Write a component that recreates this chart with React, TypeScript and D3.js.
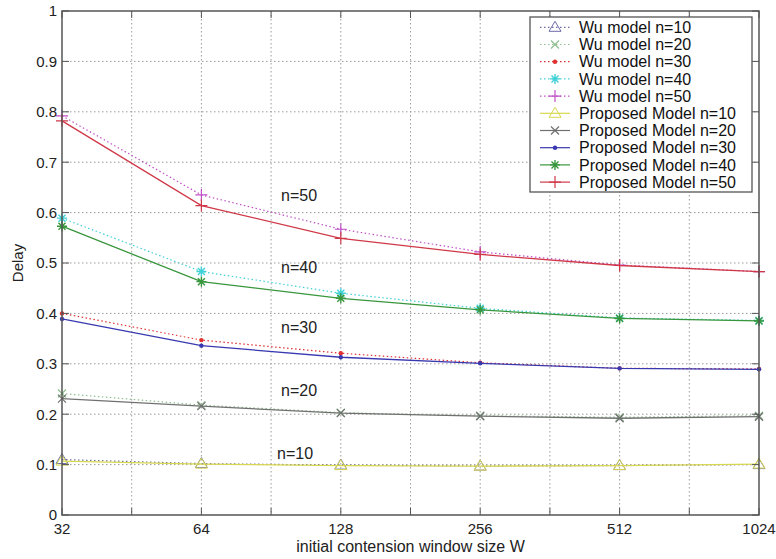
import React from "react";
import * as d3 from "d3";

const width = 776;
const height = 559;
const plot = { left: 62, right: 759, top: 11, bottom: 515 };
const font = "'Liberation Sans', Arial, Helvetica, sans-serif";

const windowSizes = [32, 64, 128, 256, 512, 1024];
const yTicks = [0, 0.1, 0.2, 0.3, 0.4, 0.5, 0.6, 0.7, 0.8, 0.9, 1];

// Wu model
const wu10 = [0.11, 0.102, 0.099, 0.097, 0.098, 0.1];
const wu20 = [0.241, 0.218, 0.203, 0.197, 0.194, 0.197];
const wu30 = [0.4, 0.347, 0.321, 0.302, 0.291, 0.29];
const wu40 = [0.589, 0.483, 0.44, 0.41, 0.391, 0.386];
const wu50 = [0.792, 0.635, 0.567, 0.522, 0.496, 0.483];

// Proposed model
const prop10 = [0.107, 0.101, 0.098, 0.097, 0.098, 0.101];
const prop20 = [0.231, 0.216, 0.202, 0.196, 0.192, 0.195];
const prop30 = [0.389, 0.336, 0.313, 0.301, 0.291, 0.289];
const prop40 = [0.573, 0.463, 0.43, 0.407, 0.39, 0.385];
const prop50 = [0.782, 0.614, 0.549, 0.517, 0.495, 0.483];

const annoTexts = ["n=50", "n=40", "n=30", "n=20", "n=10"];
const annoX = [104, 104, 104, 104, 102];
const annoY = [0.635, 0.492, 0.373, 0.248, 0.123];

type Marker = "tri" | "x" | "dot" | "star" | "plus";

const series: { name: string; values: number[]; color: string; dash: boolean; marker: Marker }[] = [
  { name: "Wu model n=10", values: wu10, color: "#6c6ca8", dash: true, marker: "tri" },
  { name: "Wu model n=20", values: wu20, color: "#8fbf8f", dash: true, marker: "x" },
  { name: "Wu model n=30", values: wu30, color: "#e03030", dash: true, marker: "dot" },
  { name: "Wu model n=40", values: wu40, color: "#40d0d8", dash: true, marker: "star" },
  { name: "Wu model n=50", values: wu50, color: "#c050c8", dash: true, marker: "plus" },
  { name: "Proposed Model n=10", values: prop10, color: "#d8d850", dash: false, marker: "tri" },
  { name: "Proposed Model n=20", values: prop20, color: "#707070", dash: false, marker: "x" },
  { name: "Proposed Model n=30", values: prop30, color: "#3838b0", dash: false, marker: "dot" },
  { name: "Proposed Model n=40", values: prop40, color: "#38963c", dash: false, marker: "star" },
  { name: "Proposed Model n=50", values: prop50, color: "#d03848", dash: false, marker: "plus" },
];

const x = d3.scaleLog().base(2).domain([32, 1024]).range([plot.left, plot.right]);
const y = d3.scaleLinear().domain([0, 1]).range([plot.bottom, plot.top]);

// grid/ticks at every half step in log2
const xGrid = d3.range(10, 21).map(k => Math.pow(2, k / 2));

function MarkerShape({ type, cx, cy, color }: { type: Marker; cx: number; cy: number; color: string }) {
  const s = 5;
  if (type === "tri") {
    return <path d={`M${cx},${cy - s - 1}L${cx + s + 1},${cy + s - 1}L${cx - s - 1},${cy + s - 1}Z`} fill="none" stroke={color} strokeWidth={1} />;
  }
  if (type === "x") {
    return <path d={`M${cx - 4},${cy - 4}L${cx + 4},${cy + 4}M${cx - 4},${cy + 4}L${cx + 4},${cy - 4}`} stroke={color} strokeWidth={1.2} />;
  }
  if (type === "dot") {
    return <circle cx={cx} cy={cy} r={2.2} fill={color} />;
  }
  if (type === "plus") {
    return <path d={`M${cx - 6},${cy}L${cx + 6},${cy}M${cx},${cy - 6}L${cx},${cy + 6}`} stroke={color} strokeWidth={1.2} />;
  }
  return (
    <path
      d={`M${cx - 5},${cy}L${cx + 5},${cy}M${cx},${cy - 5}L${cx},${cy + 5}M${cx - 3.5},${cy - 3.5}L${cx + 3.5},${cy + 3.5}M${cx - 3.5},${cy + 3.5}L${cx + 3.5},${cy - 3.5}`}
      stroke={color}
      strokeWidth={1.4}
    />
  );
}

export default function App() {
  const line = d3
    .line<number>()
    .x((_, i) => x(windowSizes[i]))
    .y(d => y(d));

  const legend = { x: 530, y: 17, w: 222, h: 175, row: 17.2 };
  const axisColor = "#555";

  return (
    <svg width={width} height={height} style={{ position: "absolute", left: 0, top: 0, background: "#fff" }} fontFamily={font}>
      <rect x={0} y={0} width={width} height={height} fill="#fff" />

      {/* grid */}
      {yTicks.slice(1, -1).map(t => (
        <line key={"gy" + t} x1={plot.left} x2={plot.right} y1={y(t)} y2={y(t)} stroke="#9a9a9a" strokeWidth={1} strokeDasharray="1.5,2.5" />
      ))}
      {xGrid.slice(1, -1).map(t => (
        <line key={"gx" + t} x1={x(t)} x2={x(t)} y1={plot.top} y2={plot.bottom} stroke="#9a9a9a" strokeWidth={1} strokeDasharray="1.5,2.5" />
      ))}

      {/* data */}
      {series.map(s => (
        <g key={s.name}>
          <path d={line(s.values) || ""} fill="none" stroke={s.color} strokeWidth={s.dash ? 1.2 : 1.3} strokeDasharray={s.dash ? "1.5,2.5" : undefined} />
          {s.values.map((v, i) => (
            <MarkerShape key={i} type={s.marker} cx={x(windowSizes[i])} cy={y(v)} color={s.color} />
          ))}
        </g>
      ))}

      {/* axes box */}
      <rect x={plot.left} y={plot.top} width={plot.right - plot.left} height={plot.bottom - plot.top} fill="none" stroke={axisColor} strokeWidth={1.5} />
      {yTicks.map(t => (
        <g key={"ty" + t}>
          <line x1={plot.left} x2={plot.left + 7} y1={y(t)} y2={y(t)} stroke={axisColor} />
          <line x1={plot.right} x2={plot.right - 7} y1={y(t)} y2={y(t)} stroke={axisColor} />
          <text x={plot.left - 5} y={y(t)} dy="0.36em" textAnchor="end" fontSize={15} fill="#222">
            {String(t)}
          </text>
        </g>
      ))}
      {xGrid.map(t => (
        <g key={"tx" + t}>
          <line x1={x(t)} x2={x(t)} y1={plot.bottom} y2={plot.bottom - 7} stroke={axisColor} />
          <line x1={x(t)} x2={x(t)} y1={plot.top} y2={plot.top + 7} stroke={axisColor} />
        </g>
      ))}
      {windowSizes.map(w => (
        <text key={"lx" + w} x={x(w)} y={plot.bottom + 19} textAnchor="middle" fontSize={15} fill="#222">
          {w}
        </text>
      ))}

      <text x={(plot.left + plot.right) / 2} y={552} textAnchor="middle" fontSize={16} fill="#222">
        initial contension window size W
      </text>
      <text transform={`translate(23,263) rotate(-90)`} textAnchor="middle" fontSize={15} fill="#222">
        Delay
      </text>

      {/* annotations */}
      {annoTexts.map((t, i) => (
        <text key={t} x={x(annoX[i])} y={y(annoY[i])} dy="0.36em" textAnchor="middle" fontSize={16} fill="#222">
          {t}
        </text>
      ))}

      {/* legend */}
      <rect x={legend.x} y={legend.y} width={legend.w} height={legend.h} fill="#fff" stroke={axisColor} strokeWidth={1.3} />
      {series.map((s, i) => {
        const ry = legend.y + 10.3 + i * legend.row;
        return (
          <g key={"lg" + s.name}>
            <line x1={540} x2={570} y1={ry} y2={ry} stroke={s.color} strokeWidth={1.2} strokeDasharray={s.dash ? "1.5,2.5" : undefined} />
            <MarkerShape type={s.marker} cx={555} cy={ry} color={s.color} />
            <text x={579} y={ry} dy="0.36em" fontSize={16} fill="#111">
              {s.name}
            </text>
          </g>
        );
      })}
    </svg>
  );
}
